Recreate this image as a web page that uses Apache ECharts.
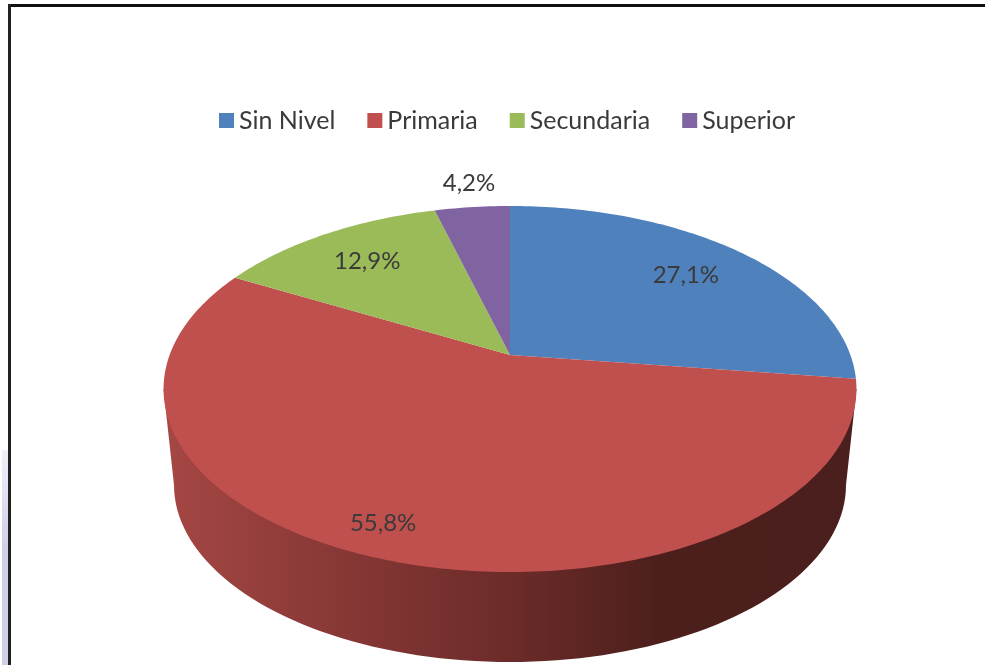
<!DOCTYPE html>
<html>
<head>
<meta charset="utf-8">
<title>Nivel educativo</title>
<script src="https://cdn.jsdelivr.net/npm/echarts@6/dist/echarts.min.js"></script>
<style>
  html, body { margin: 0; padding: 0; background: #fff; }
  #chart { width: 985px; height: 665px; }
</style>
</head>
<body>
<div id="chart"></div>
<script>
const categories = ["Sin Nivel", "Primaria", "Secundaria", "Superior"];
const shares = [27.1, 55.8, 12.9, 4.2];
const colors = ["#4f81bd", "#c0504d", "#9bbb59", "#8064a2"];

// where each label sits: fraction of the radius, and a turn in degrees from the slice middle
const labelRadius = [0.75, 0.868, 0.75, 1.197];
const labelTurn = [0, 3.4, 0, 0.5];

// top face of the disc, seen in perspective
const CX = 510, CY = 355, AX = 340.4, AY = 176.7, PERSP = 0.186;

function project(deg, r) {
  const t = (deg * Math.PI) / 180;
  const u = r * Math.sin(t);
  const v = -r * Math.cos(t);
  const d = 1 - PERSP * v;
  return [CX + (AX * u) / d, CY + (AY * v) / d];
}

function wallPoints() {
  // lower half of the bottom rim, closed up to the widest points of the top face
  const pts = [[163.5, 389]];
  for (let a = 180; a >= 0; a -= 2) {
    const t = (a * Math.PI) / 180;
    pts.push([510 + 336 * Math.cos(t), 485 + 177 * Math.sin(t)]);
  }
  pts.push([856.5, 389]);
  return pts;
}

function makeRender(index) {
  let before = 0;
  for (let i = 0; i < index; i++) before += shares[i];
  return function (params, api) {
    const value = api.value(0);
    const start = (before / 100) * 360;
    const end = ((before + value) / 100) * 360;
    const pts = [[CX, CY]];
    for (let a = start; a < end; a += 1) pts.push(project(a, 1));
    pts.push(project(end, 1));

    const children = [];
    // only the slice in front shows a side wall
    if (start < 180 && end > 180) {
      children.push({
        type: "polygon",
        shape: { points: wallPoints() },
        style: {
          fill: new echarts.graphic.LinearGradient(0, 0, 1, 0, [
            { offset: 0, color: "#a64744" },
            { offset: 0.2, color: "#8d3b38" },
            { offset: 0.49, color: "#6d2c2a" },
            { offset: 0.72, color: "#4c1f1c" },
            { offset: 1, color: "#4b1f1d" },
          ]),
        },
      });
    }
    children.push({
      type: "polygon",
      shape: { points: pts },
      style: { fill: colors[index] },
    });
    const mid = (start + end) / 2 + labelTurn[index];
    const pos = project(mid, labelRadius[index]);
    children.push({
      type: "text",
      z2: 10,
      style: {
        text: value.toFixed(1).replace(".", ",") + "%",
        x: pos[0],
        y: pos[1],
        align: "center",
        verticalAlign: "middle",
        fill: "#3a3a3a",
        font: "24px Lato",
      },
    });
    return { type: "group", children: children };
  };
}

const chart = echarts.init(document.getElementById("chart"));
chart.setOption({
  animation: false,
  backgroundColor: "#fff",
  legend: {
    data: categories,
    left: 219,
    top: 108,
    padding: 0,
    icon: "rect",
    itemWidth: 15,
    itemHeight: 15,
    itemGap: 32,
    textStyle: { color: "#3a3a3a", fontFamily: "Lato", fontSize: 25 },
    selectedMode: false,
  },
  graphic: [
    {
      type: "rect",
      shape: { x: 2, y: 450, width: 6, height: 215 },
      style: {
        fill: new echarts.graphic.LinearGradient(0, 0, 0, 1, [
          { offset: 0, color: "#f0f0fa" },
          { offset: 0.45, color: "#d0d0e8" },
          { offset: 1, color: "#d0d0e8" },
        ]),
      },
    },
    { type: "rect", shape: { x: 8, y: 4, width: 977, height: 3 }, style: { fill: "#111" } },
    { type: "rect", shape: { x: 8, y: 4, width: 3, height: 661 }, style: { fill: "#222" } },
  ],
  series: categories.map(function (name, i) {
    return {
      type: "custom",
      name: name,
      coordinateSystem: "none",
      itemStyle: { color: colors[i] },
      silent: true,
      data: [[shares[i]]],
      renderItem: makeRender(i),
    };
  }),
});
</script>
</body>
</html>
